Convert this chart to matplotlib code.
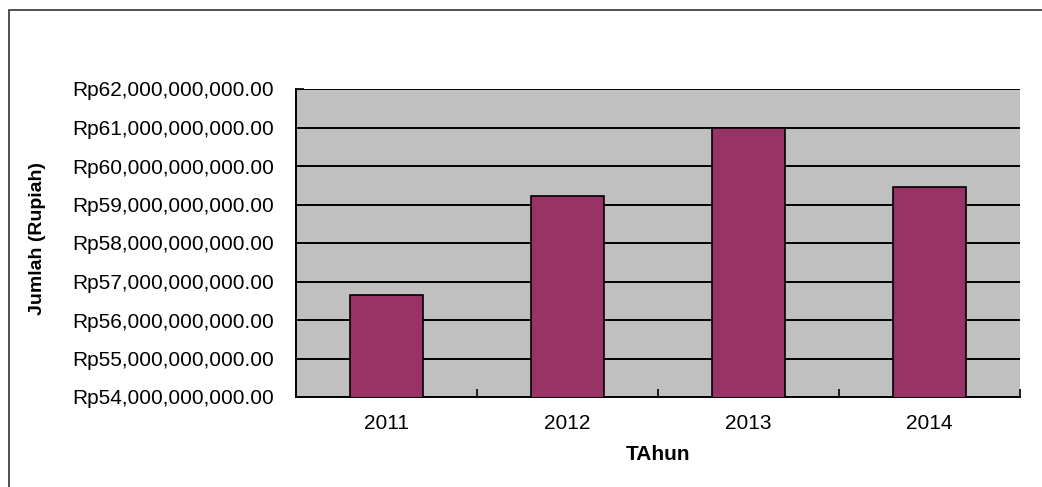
import matplotlib
matplotlib.use("Agg")
import matplotlib.pyplot as plt
from matplotlib.patches import Rectangle
from matplotlib.ticker import FuncFormatter, FixedLocator

years = ["2011", "2012", "2013", "2014"]
jumlah = [56.65e9, 59.23e9, 61.0e9, 59.46e9]
y_ticks = [54e9 + i * 1e9 for i in range(9)]

plt.rcParams["font.family"] = ["Liberation Sans", "DejaVu Sans"]

fig = plt.figure(figsize=(10.42, 4.87), dpi=100)
# outer chart frame (runs off the right/bottom edge like the source)
fig.patches.append(Rectangle((9 / 1042, -0.1), 1.2, 1 - 10 / 487 + 0.1,
                             transform=fig.transFigure, fill=False,
                             edgecolor="#333333", linewidth=1.2))

ax = fig.add_axes([296 / 1042, 90 / 487, 724 / 1042, 308 / 487])
ax.set_facecolor("#C0C0C0")
x = list(range(len(years)))
ax.bar(x, jumlah, width=0.4, color="#993366", edgecolor="black", linewidth=1.2, zorder=3)

ax.set_xlim(-0.5, len(years) - 0.5)
ax.set_ylim(y_ticks[0], y_ticks[-1])
ax.set_yticks(y_ticks)
ax.yaxis.set_major_formatter(FuncFormatter(lambda v, _: f"Rp{v:,.2f}"))
ax.grid(axis="y", color="black", linewidth=1.4, zorder=1)
ax.set_axisbelow(True)

ax.set_xticks(x)
ax.set_xticklabels(years)
ax.xaxis.set_minor_locator(FixedLocator([i + 0.5 for i in range(len(years))]))
ax.tick_params(axis="x", which="major", length=0, labelsize=15, pad=12)
ax.tick_params(axis="x", which="minor", direction="in", length=6, width=1.2)
ax.tick_params(axis="y", direction="in", length=6, width=1.2, labelsize=15, pad=16)

for side in ["top", "right"]:
    ax.spines[side].set_visible(False)
for side in ["left", "bottom"]:
    ax.spines[side].set_linewidth(1.4)

ax.set_xlabel("TAhun", fontsize=15, fontweight="bold", labelpad=9)
ax.set_ylabel("Jumlah (Rupiah)", fontsize=14, fontweight="bold")
ax.yaxis.set_label_coords(-0.345, 0.513)

fig.savefig("out.png", dpi=100)
